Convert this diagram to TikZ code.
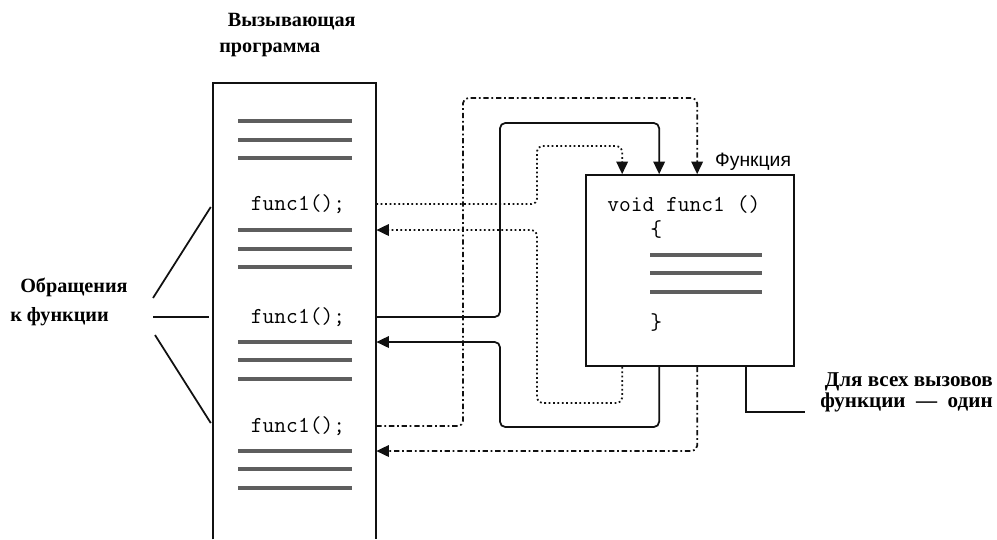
\documentclass[tikz,border=0pt]{standalone}
\usepackage{fontspec}
\setmainfont{Liberation Serif}
\newfontfamily\labelsans{Liberation Sans}
\usetikzlibrary{arrows.meta,calc,positioning}
\definecolor{Scribble}{HTML}{5E5E5E}
\definecolor{Ink}{HTML}{111111}

\begin{document}
\begin{tikzpicture}[
        x=0.02cm, y=-0.02cm,
        font=\bfseries\fontsize{12}{14}\selectfont,
        code/.style={font=\ttfamily\fontsize{13}{15}\selectfont, inner sep=0pt},
        scribble/.style={line width=2.1pt, draw=Scribble},
        plain/.style={line width=1pt, draw=Ink},
        link/.style={line width=1pt, draw=Ink, rounded corners=3pt},
        tip/.style={-{Triangle[length=2.5mm,width=2.3mm]}},
        dotline/.style={link, dash pattern=on 1pt off 1.5pt},
        dashdotline/.style={link, dash pattern=on 3pt off 1.6pt on 1pt off 1.6pt}
    ]
        \useasboundingbox (0,0) rectangle (997,539);

        % calling program
        \node[inner sep=0pt, minimum width=3.26cm, minimum height=9.12cm] (prog) at (294.5,311) {};
        \draw[plain] (prog.south west) -- (prog.north west) -- (prog.north east) -- (prog.south east);
        \node[align=left, anchor=west, inner sep=0pt,
              font=\bfseries\fontsize{11.5}{14.7}\selectfont] (title) at (219,35)
            {\hspace*{0.17cm}Вызывающая\\программа};

        \node[code] (c1) at (298,204) {func1();};
        \node[code] (c2) at (298,317) {func1();};
        \node[code] (c3) at (298,426) {func1();};
        \foreach \y in {121,140,158,230,249,267,342,360,379,451,469,488}
            \draw[scribble] (238,\y) -- (352,\y);

        % the function
        \node[draw=Ink, line width=1pt, inner sep=0pt,
              minimum width=4.16cm, minimum height=3.82cm] (fbox) at (690,270.5) {};
        \node[anchor=south east, inner sep=2pt,
              font=\labelsans\fontsize{11}{13}\selectfont] (fname) at (fbox.north east) {Функция};
        \node[code, anchor=west] (head) at (607,205) {void func1 ()};
        \node[code, anchor=west] (open) at (650,230) {\{};
        \node[code, anchor=west] (close) at (650,323) {\}};
        \foreach \y in {255,273,292}
            \draw[scribble] (650,\y) -- (762,\y);

        % entry and exit points
        \coordinate (in1) at ($(fbox.north west)+(37,0)$);
        \coordinate (in2) at ($(fbox.north west)+(74,0)$);
        \coordinate (in3) at ($(fbox.north west)+(112,0)$);
        \coordinate (out1) at ($(fbox.south west)+(37,0)$);
        \coordinate (out2) at ($(fbox.south west)+(74,0)$);
        \coordinate (out3) at ($(fbox.south west)+(112,0)$);
        \coordinate (ret1) at ($(prog.east |- c1)+(0,26)$);
        \coordinate (ret2) at ($(prog.east |- c2)+(0,25)$);
        \coordinate (ret3) at ($(prog.east |- c3)+(0,25)$);

        % first call: dotted
        \draw[dotline, tip] (prog.east |- c1) -| (537,146) -| (in1);
        \draw[dotline, tip] (out1) |- (537,403) |- (ret1);

        % second call: solid
        \draw[link, tip] (prog.east |- c2) -| (500,123) -| (in2);
        \draw[link, tip] (out2) |- (500,427) |- (ret2);

        % third call: dash-dot
        \draw[dashdotline, tip] (prog.east |- c3) -| (463,98) -| (in3);
        \draw[dashdotline, tip] (out3) |- (ret3);

        % labels
        \node[align=left, anchor=east, inner sep=0pt,
              font=\bfseries\fontsize{11.5}{16.4}\selectfont] (calls) at (128,302)
            {\hspace*{0.2cm}Обращения\\к функции};
        \coordinate (fan) at (153,317);
        \draw[plain, shorten >=2pt] ($(fan)+(0,-19)$) -- (prog.west |- c1);
        \draw[plain, shorten >=2pt] (fan) -- (prog.west |- c2);
        \draw[plain, shorten >=2pt] ($(fan)+(2,18)$) -- (prog.west |- c3);

        \node[align=right, anchor=east, inner sep=0pt,
              font=\bfseries\fontsize{12}{12}\selectfont] (once) at (993,392)
            {Для всех вызовов\\функции \ — \ один};
        \draw[plain] ($(fbox.south west)+(161,0)$) |- ([xshift=-0.3cm]once.south west);
    \end{tikzpicture}
\end{document}
